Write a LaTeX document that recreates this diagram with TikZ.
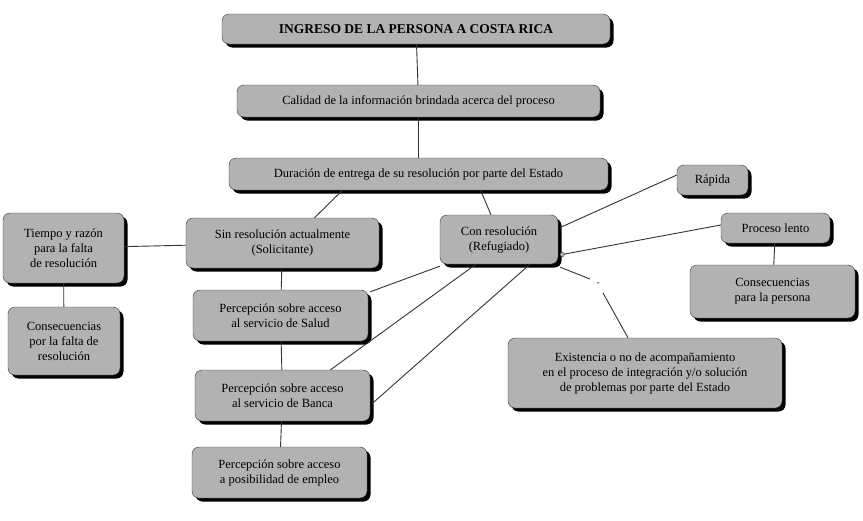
\documentclass[tikz,border=0pt]{standalone}
\usepackage{fontspec}
\setmainfont{Liberation Serif}
\usetikzlibrary{shadows,calc}
\begin{document}
\begin{tikzpicture}[x=1pt,y=-1pt,
  box/.style={draw=black!80,fill=black!30,rounded corners=7pt,align=center,inner sep=2pt,
    font=\fontsize{12.5}{15}\selectfont,
    drop shadow={shadow xshift=3.5pt,shadow yshift=-3.5pt,fill=black,opacity=1}},
  ln/.style={draw=black!80,line width=0.9pt}]
\useasboundingbox (0,0) rectangle (863,520);
\newcommand{\bx}[7]{\node[box,minimum width=#4-#2,minimum height=#5-#3,#6] (#1) at ({(#2+#4)/2},{(#3+#5)/2}) {#7};}
\bx{tit}{222}{14}{610}{44}{font=\fontsize{13.5}{16}\selectfont\bfseries}{INGRESO DE LA PERSONA A COSTA RICA}
\bx{cal}{237}{85}{600}{117}{}{Calidad de la información brindada acerca del proceso}
\bx{dur}{229}{158}{608}{190}{}{Duración de entrega de su resolución por parte del Estado}
\bx{rap}{677}{165}{748}{195}{}{Rápida}
\bx{tie}{3}{213}{124}{283}{}{Tiempo y razón\\para la falta\\de resolución}
\bx{sin}{186}{218}{379}{268}{}{Sin resolución actualmente\\(Solicitante)}
\bx{con}{440}{215}{558}{264}{}{Con resolución\\(Refugiado)}
\bx{len}{721}{213}{830}{243}{}{Proceso lento}
\bx{cpe}{690}{265}{855}{318}{}{Consecuencias\\para la persona}
\bx{cfa}{8}{307}{120}{375}{}{Consecuencias\\por la falta de\\resolución}
\bx{sal}{193}{290}{368}{341}{}{Percepción sobre acceso\\al servicio de Salud}
\bx{exi}{508}{338}{782}{408}{}{Existencia o no de acompañamiento\\en el proceso de integración y/o solución\\de problemas por parte del Estado}
\bx{ban}{195}{370}{370}{421}{}{Percepción sobre acceso\\al servicio de Banca}
\bx{emp}{192}{447}{367}{498}{}{Percepción sobre acceso\\a posibilidad de empleo}
\coordinate (d1) at (590,279);
\coordinate (d2) at (603,293);
\node[font=\fontsize{9}{9}\selectfont] (dash) at (598,284) {-};
\draw[ln] (tit) -- (cal);
\draw[ln] (cal) -- (dur);
\draw[ln] ($(dur.south)+(-76,0)$) -- ($(sin.north)+(32,0)$);
\draw[ln] ($(dur.south)+(62,0)$) -- ($(con.north)+(-8,0)$);
\draw[ln] (tie) -- (sin);
\draw[ln] (tie) -- (cfa);
\draw[ln] (sin) -- (sal);
\draw[ln] (sal) -- (ban);
\draw[ln] (ban) -- (emp);
\draw[ln] ($(con.south west)+(0,2)$) -- ($(sal.north east)+(2,2)$);
\draw[ln] ($(con.south)+(-23,0)$) -- ($(ban.north)+(48,0)$);
\draw[ln] ($(con.south)+(31,0)$) -- ($(ban.east)+(2,8)$);
\draw[ln] ($(con.east)+(2,-12)$) -- ($(rap.west)+(0,-5)$);
\draw[ln] ($(con.east)+(4,15)$) -- ($(len.west)+(0,-3)$);
\draw[draw=black!80,fill=black!30] ($(con.east)+(4,15)$) circle (2.2);
\draw[ln] (len) -- (cpe);
\draw[ln] ($(con.south east)+(2,3)$) -- (d1);
\draw[ln] (d2) -- ($(exi.north)+(-17,0)$);
\end{tikzpicture}
\end{document}
